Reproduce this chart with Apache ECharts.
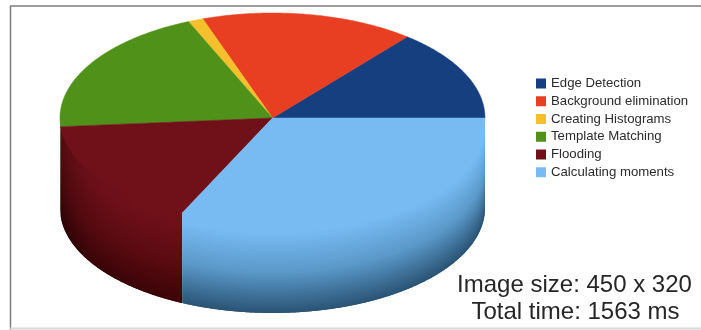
<!DOCTYPE html>
<html>
<head>
<meta charset="utf-8">
<style>html,body{margin:0;padding:0;background:#fff}#c{width:701px;height:330px;filter:blur(0.45px)}</style>
<script src="https://cdn.jsdelivr.net/npm/echarts@6/dist/echarts.min.js"></script>
</head>
<body>
<div id="c"></div>
<script>
const categories = ['Edge Detection','Background elimination','Creating Histograms','Template Matching','Flooding','Calculating moments'];
const values = [220,254,18,310,261,500];
const topColors = ['#163f80','#e83f22','#f5c02b','#4f9119','#701019','#78bbf3'];
const wallTops = ['#163f80','#e83f22','#f5c02b','#4f9119','#701019','#78bbf3'];
const wallMids = ['#102e5e','#a82c18','#b58e20','#3a6b12','#5c0b12','#5a98c8'];
const wallBottoms = ['#0a1d3c','#6a1c0f','#735a14','#25440c','#3a0407','#2a5374'];
const infoLines = ['Image size: 450 x 320','Total time: 1563 ms'];

const CX = 272.5, CY = 118, RX = 212.5, RY = 105, DEPTH = 90;
const total = values.reduce((a,b)=>a+b,0);
const pt = (deg, dy) => {
  const r = deg*Math.PI/180;
  return [CX + RX*Math.cos(r), CY - RY*Math.sin(r) + (dy||0)];
};
// front rim height below the centre line at a given x
const rimAt = x => {
  const u = Math.min(1,Math.abs(x-CX)/RX);
  return RY*Math.sqrt(1-u*u);
};
function renderSlice(i){
  return function(params, api){
    const v = api.value(0);
    let before = 0;
    for(let k=0;k<i;k++) before += values[k];
    const a0 = before/total*360, a1 = (before+v)/total*360;
    const children = [];
    if(a1 > 180){
      const X0 = pt(Math.max(a0,180))[0], X1 = pt(a1)[0];
      // wall top tucked slightly under the slice's own top surface
      const topY = x => CY + rimAt(x) - Math.min(rimAt(x)*0.04, (x-X0)*0.9, (X1-x)*0.9);
      for(let x=X0; x<X1; x=Math.floor(x)+1){
        const x2 = Math.min(Math.floor(x)+2, X1);
        const rim = CY + rimAt((x+x2)/2);
        const u = Math.abs((x+x2)/2-CX)/RX;
        const side = (x+x2)/2<CX ? Math.pow(u,10) : 0;
        const shade = c => echarts.color.lerp(side*0.3,[c,'#000000']);
        const poly = [[x,topY(x)],[x2,topY(x2)]];
        // bottom edge following the lower ellipse
        for(let s=4;s>=0;s--){
          const xx = x+(x2-x)*s/4;
          poly.push([xx,CY+rimAt(xx)+DEPTH]);
        }
        children.push({
          type:'polygon',
          shape:{points:poly},
          style:{fill:new echarts.graphic.LinearGradient(0,rim,0,rim+DEPTH,[
            {offset:0,color:shade(wallTops[i])},
            {offset:0.1,color:shade(wallTops[i])},
            {offset:0.55,color:shade(wallMids[i])},
            {offset:1,color:shade(wallBottoms[i])}
          ],true)},
          silent:true
        });
      }
    }
    const pts = [[CX,CY]];
    for(let a=a0; a<a1; a+=0.5) pts.push(pt(a));
    pts.push(pt(a1));
    children.push({
      type:'polygon',
      shape:{points:pts},
      style:{fill:topColors[i],stroke:topColors[i],lineWidth:0.5},
      silent:true
    });
    return {type:'group',children};
  };
}
const chart = echarts.init(document.getElementById('c'),null,{renderer:'canvas'});
chart.setOption({
  animation:false,
  backgroundColor:'#fff',
  legend:{
    orient:'vertical',left:536,top:77,padding:0,
    itemWidth:10,itemHeight:10,itemGap:4.75,selectedMode:false,
    icon:'rect',
    data:categories,
    textStyle:{fontFamily:'Liberation Sans',fontSize:13.2,color:'#2c2c2c',height:12,lineHeight:12}
  },
  graphic:[
    {type:'line',shape:{x1:10,y1:6,x2:701,y2:6},style:{stroke:'#7c7c7c',lineWidth:1.5},silent:true},
    {type:'line',shape:{x1:10.5,y1:6,x2:10.5,y2:330},style:{stroke:'#7c7c7c',lineWidth:1.5},silent:true},
    {type:'line',shape:{x1:10,y1:328.5,x2:701,y2:328.5},style:{stroke:'#d8d8d8',lineWidth:2},silent:true},
    {type:'text',style:{x:574.5,y:285,text:infoLines[0],align:'center',verticalAlign:'middle',font:'24px "Liberation Sans"',fill:'#262626'},silent:true},
    {type:'text',style:{x:575.5,y:312,text:infoLines[1],align:'center',verticalAlign:'middle',font:'24px "Liberation Sans"',fill:'#262626'},silent:true}
  ],
  series:categories.map((name,i)=>({
    type:'custom',name,coordinateSystem:'none',
    data:[[values[i]]],
    itemStyle:{color:topColors[i]},
    renderItem:renderSlice(i),
    silent:true
  }))
});
</script>
</body>
</html>
